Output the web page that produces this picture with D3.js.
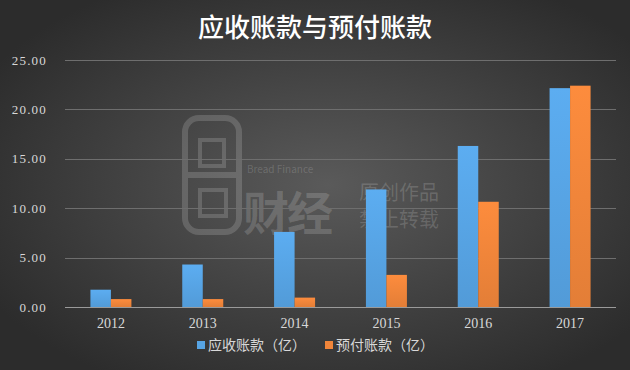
<!DOCTYPE html>
<html>
<head>
<meta charset="utf-8">
<script src="https://cdn.jsdelivr.net/npm/d3@7"></script>
<style>
  html, body { margin: 0; padding: 0; background: #333; }
  svg { display: block; }
</style>
</head>
<body>
<svg id="chart" width="630" height="370"></svg>
<script>
// datos
const years = ['2012', '2013', '2014', '2015', '2016', '2017'];
const receivables = [1.75, 4.3, 7.6, 11.9, 16.3, 22.15];   // 应收账款（亿）
const prepayments = [0.8, 0.8, 0.95, 3.25, 10.65, 22.4];    // 预付账款（亿）
const seriesNames = ['应收账款（亿）', '预付账款（亿）'];
const yTicks = [0, 5, 10, 15, 20, 25];

const W = 630, H = 370;
const M = { top: 60, right: 14, bottom: 63, left: 65 };
const SERIF = '"Liberation Serif", "DejaVu Serif", serif';
const CJK = '"Noto Sans CJK SC", "Noto Sans", sans-serif';
const COLORS = ['#57a4e4', '#f0853a'];

const svg = d3.select('#chart');
const defs = svg.append('defs');

// fondo con degradado radial
const bg = defs.append('radialGradient').attr('id', 'bg')
  .attr('cx', '0.52').attr('cy', '0.5').attr('r', '0.62');
bg.append('stop').attr('offset', '0%').attr('stop-color', '#5a5a5a');
bg.append('stop').attr('offset', '100%').attr('stop-color', '#2c2c2c');
svg.append('rect').attr('width', W).attr('height', H).attr('fill', 'url(#bg)');

COLORS.forEach((c, i) => {
  const g = defs.append('linearGradient').attr('id', 'bar' + i)
    .attr('x1', 0).attr('y1', 0).attr('x2', 0).attr('y2', 1);
  g.append('stop').attr('offset', '0%').attr('stop-color', d3.color(c).brighter(0.15));
  g.append('stop').attr('offset', '100%').attr('stop-color', d3.color(c).darker(0.15));
});

// escalas
const x = d3.scaleBand().domain(years).range([M.left, W - M.right]).paddingInner(0).paddingOuter(0);
const x1 = d3.scaleBand().domain([0, 1]).range([0, 41]);
const y = d3.scaleLinear().domain([0, 25]).range([H - M.bottom, M.top]);

// marca de agua
const wm = svg.append('g').attr('fill', 'none').attr('stroke', '#ffffff').attr('stroke-opacity', 0.16).attr('stroke-width', 6);
wm.append('rect').attr('x', 185).attr('y', 118).attr('width', 54).attr('height', 114).attr('rx', 14);
wm.append('line').attr('x1', 188).attr('x2', 236).attr('y1', 175).attr('y2', 175);
wm.append('rect').attr('x', 200).attr('y', 140).attr('width', 24).attr('height', 26).attr('stroke-width', 4);
wm.append('rect').attr('x', 200).attr('y', 190).attr('width', 26).attr('height', 26).attr('stroke-width', 4);
const wmt = svg.append('g').attr('fill', '#ffffff').attr('fill-opacity', 0.16);
wmt.append('text').attr('x', 247).attr('y', 173).attr('font-family', CJK).attr('font-size', 10).text('Bread Finance');
wmt.append('text').attr('x', 243).attr('y', 230).attr('font-family', CJK).attr('font-size', 46).attr('font-weight', 700).attr('letter-spacing', -2).text('财经');
wmt.append('text').attr('x', 359).attr('y', 200).attr('font-family', CJK).attr('font-size', 20).text('原创作品');
wmt.append('text').attr('x', 359).attr('y', 227).attr('font-family', CJK).attr('font-size', 20).text('禁止转载');

// lineas de cuadricula
svg.append('g').selectAll('line').data(yTicks).join('line')
  .attr('x1', M.left).attr('x2', W - M.right)
  .attr('y1', d => Math.round(y(d)) + 0.5).attr('y2', d => Math.round(y(d)) + 0.5)
  .attr('stroke', d => d === 0 ? '#9a9a9a' : '#6e6e6e').attr('stroke-width', 1);

// eje Y
const yAxis = svg.append('g').attr('transform', `translate(${M.left - 18},0)`)
  .call(d3.axisLeft(y).tickValues(yTicks).tickFormat(d3.format('.2f')).tickSize(0).tickPadding(0));
yAxis.select('.domain').remove();
yAxis.selectAll('text').attr('fill', '#d8d8d8').attr('font-family', SERIF).attr('font-size', 13).attr('letter-spacing', 1.2);

// eje X
const xAxis = svg.append('g').attr('transform', `translate(0,${H - M.bottom})`)
  .call(d3.axisBottom(x).tickSize(0).tickPadding(11));
xAxis.select('.domain').remove();
xAxis.selectAll('text').attr('fill', '#d8d8d8').attr('font-family', SERIF).attr('font-size', 14);

// barras
const rows = years.map((yr, i) => ({ yr, vals: [receivables[i], prepayments[i]] }));
svg.append('g').selectAll('g').data(rows).join('g')
  .attr('transform', d => `translate(${x(d.yr) + (x.bandwidth() - 41) / 2},0)`)
  .selectAll('rect').data(d => d.vals.map((v, k) => ({ v, k }))).join('rect')
  .attr('x', d => x1(d.k))
  .attr('width', x1.bandwidth())
  .attr('y', d => y(d.v))
  .attr('height', d => y(0) - y(d.v))
  .attr('fill', d => `url(#bar${d.k})`);

// titulo
svg.append('text').attr('x', W / 2).attr('y', 37).attr('text-anchor', 'middle')
  .attr('fill', '#ffffff').attr('font-family', CJK).attr('font-weight', 500).attr('font-size', 26)
  .text('应收账款与预付账款');

// leyenda
const legend = svg.append('g').attr('transform', 'translate(197,345)');
const lx = [0, 128];
seriesNames.forEach((name, i) => {
  const g = legend.append('g').attr('transform', `translate(${lx[i]},0)`);
  g.append('rect').attr('x', 0).attr('y', -4).attr('width', 8).attr('height', 8).attr('fill', COLORS[i]);
  g.append('text').attr('x', 11).attr('y', 0).attr('dy', '0.35em')
    .attr('fill', '#d8d8d8').attr('font-family', CJK).attr('font-size', 14).text(name);
});
</script>
</body>
</html>
